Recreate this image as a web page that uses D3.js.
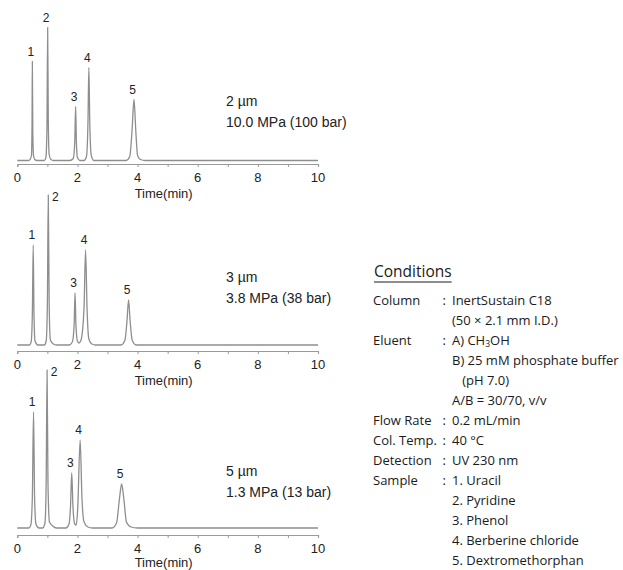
<!DOCTYPE html>
<html>
<head>
<meta charset="utf-8">
<script src="https://cdn.jsdelivr.net/npm/d3@7"></script>
<style>
  html, body { margin: 0; padding: 0; background: #fff; }
  svg { display: block; }
</style>
</head>
<body>
<svg id="chart" width="623" height="570"></svg>
<script>
// ---------- data ----------
const xTickLabels = [0, 2, 4, 6, 8, 10];
const xMinorTicks = [0, 1, 2, 3, 4, 5, 6, 7, 8, 9, 10];
const axisTitle = "Time(min)";

const particleSizes = ["2 µm", "3 µm", "5 µm"];
const pressures = ["10.0 MPa (100 bar)", "3.8 MPa (38 bar)", "1.3 MPa (13 bar)"];

const peakIds = ["1", "2", "3", "4", "5"];
const peakTimes2um = [0.50, 1.01, 1.94, 2.38, 3.88];
const peakHeights2um = [99, 133, 54, 93, 61];
const peakTimes3um = [0.53, 1.03, 1.92, 2.27, 3.70];
const peakHeights3um = [100, 150, 52, 95, 45];
const peakTimes5um = [0.54, 0.99, 1.81, 2.09, 3.47];
const peakHeights5um = [116, 158, 55, 88, 44];

// chromatogram traces: [time (min), signal]
const trace2um = [[0,0],[0.38,0],[0.44,2],[0.47,5],[0.49,35],[0.50,99],[0.515,30],[0.54,5],[0.58,1],[0.65,0],
  [0.90,0],[0.95,3],[0.985,30],[1.01,133],[1.03,40],[1.06,6],[1.12,1],[1.2,0],
  [1.75,0],[1.86,2],[1.91,18],[1.94,54],[1.965,18],[2.0,3],[2.08,0],
  [2.22,0],[2.30,4],[2.35,38],[2.38,93],[2.41,38],[2.46,5],[2.55,0],
  [3.62,0],[3.74,4],[3.82,32],[3.88,61],[3.94,30],[4.0,5],[4.1,1],[4.25,0],[10,0]];
const trace3um = [[0,0],[0.40,0],[0.46,3],[0.50,30],[0.53,100],[0.555,30],[0.59,4],[0.68,0],
  [0.90,0],[0.96,4],[1.00,40],[1.03,150],[1.06,40],[1.10,5],[1.2,1],[1.3,0],
  [1.72,0],[1.83,3],[1.89,20],[1.92,52],[1.95,20],[2.0,4],[2.05,2],[2.12,5],[2.22,38],[2.27,95],[2.32,36],[2.38,6],[2.48,1],[2.6,0],
  [3.45,0],[3.58,5],[3.65,25],[3.70,45],[3.75,25],[3.82,5],[3.95,0],[10,0]];
const trace5um = [[0,0],[0.38,0],[0.45,3],[0.50,30],[0.54,116],[0.575,30],[0.62,4],[0.72,0],
  [0.84,0],[0.92,5],[0.96,45],[0.99,158],[1.02,45],[1.07,6],[1.18,2],[1.3,0],
  [1.62,0],[1.72,4],[1.77,22],[1.81,55],[1.85,22],[1.91,4],[1.96,3],[2.01,20],[2.09,88],[2.15,30],[2.22,6],[2.35,1],[2.5,0],
  [3.15,0],[3.30,5],[3.40,30],[3.47,44],[3.54,30],[3.63,6],[3.78,1],[4.0,0],[10,0]];

const conditionsTitle = "Conditions";
const conditionKeys = ["Column", "", "Eluent", "", "", "", "Flow Rate", "Col. Temp.", "Detection", "Sample", "", "", "", ""];
const conditionValues = ["InertSustain C18", "(50 × 2.1 mm I.D.)", "A) CH|3|OH", "B) 25 mM phosphate buffer",
  "   (pH 7.0)", "A/B = 30/70, v/v", "0.2 mL/min", "40 °C", "UV 230 nm",
  "1. Uracil", "2. Pyridine", "3. Phenol", "4. Berberine chloride", "5. Dextromethorphan"];

// ---------- layout ----------
const panelTraces = [trace2um, trace3um, trace5um];
const panelPeakTimes = [peakTimes2um, peakTimes3um, peakTimes5um];
const panelPeakHeights = [peakHeights2um, peakHeights3um, peakHeights5um];
const panelBaselines = [160.5, 345, 528];
const panelAxisY = [164, 351, 535];
const panelTops = [10, 190, 372];
const panelTextY = [106, 282, 476];

const svg = d3.select("#chart");
const x = d3.scaleLinear().domain([0, 10]).range([17.3, 318]);
const chartFont = "'Liberation Sans', Arial, sans-serif";
const traceColor = "#8e8e8e";

panelTraces.forEach((trace, i) => {
  const g = svg.append("g");
  const y = d3.scaleLinear().domain([0, 160]).range([panelBaselines[i], panelBaselines[i] - 160]);

  // axis
  const axis = d3.axisBottom(x).tickValues(xMinorTicks).tickSize(3).tickFormat("");
  const ag = g.append("g").attr("transform", `translate(0,${panelAxisY[i]})`).call(axis);
  ag.select(".domain").attr("stroke", "#9a9a9a").attr("stroke-width", 1.2);
  ag.selectAll(".tick line").attr("stroke", "#9a9a9a");

  g.selectAll("text.tl").data(xTickLabels).join("text")
    .attr("class", "tl")
    .attr("x", d => x(d))
    .attr("y", panelAxisY[i] + 18)
    .attr("text-anchor", "middle")
    .attr("font-family", chartFont).attr("font-size", 13).attr("fill", "#222")
    .text(d => d);

  g.append("text")
    .attr("x", (x.range()[0] + x.range()[1]) / 2 - 4)
    .attr("y", Math.min(panelAxisY[i] + 34, 567))
    .attr("text-anchor", "middle")
    .attr("font-family", chartFont).attr("font-size", 13).attr("fill", "#222")
    .text(axisTitle);

  // trace
  const line = d3.line().x(d => x(d[0])).y(d => y(d[1])).curve(d3.curveMonotoneX);
  g.append("path").datum(trace)
    .attr("d", line)
    .attr("fill", "none")
    .attr("stroke", traceColor)
    .attr("stroke-width", 1.3)
    .attr("stroke-linejoin", "round");

  // peak labels
  const times = panelPeakTimes[i], heights = panelPeakHeights[i];
  g.selectAll("text.pk").data(peakIds).join("text")
    .attr("class", "pk")
    .each(function(d, k) {
      const px = x(times[k]), py = y(heights[k]);
      const above = py - 14 >= panelTops[i];
      d3.select(this)
        .attr("x", above ? px - 1.5 : px + 7)
        .attr("y", above ? py - 6 : py + 6);
    })
    .attr("text-anchor", "middle")
    .attr("font-family", chartFont).attr("font-size", 12).attr("fill", "#222")
    .text(d => d);

  // panel annotation
  g.append("text").attr("x", 226).attr("y", panelTextY[i])
    .attr("font-family", chartFont).attr("font-size", 14).attr("fill", "#222")
    .text(particleSizes[i]);
  g.append("text").attr("x", 226).attr("y", panelTextY[i] + 21)
    .attr("font-family", chartFont).attr("font-size", 14).attr("fill", "#222")
    .text(pressures[i]);
});

// ---------- conditions ----------
const condFont = "'Open Sans', sans-serif";
const condSize = 13;
const cg = svg.append("g");
const title = cg.append("text").attr("x", 374).attr("y", 276.5)
  .attr("font-family", condFont).attr("font-size", 15.5).attr("fill", "#1a1a1a")
  .text(conditionsTitle);
const tw = title.node().getComputedTextLength();
cg.append("line").attr("x1", 374).attr("x2", 374 + tw).attr("y1", 282).attr("y2", 282)
  .attr("stroke", "#1a1a1a").attr("stroke-width", 1);

conditionValues.forEach((v, k) => {
  const yy = 304.5 + 20 * k;
  if (conditionKeys[k]) {
    cg.append("text").attr("x", 373).attr("y", yy)
      .attr("font-family", condFont).attr("font-size", condSize).attr("fill", "#1a1a1a")
      .text(conditionKeys[k]);
    cg.append("text").attr("x", 442.5).attr("y", yy)
      .attr("font-family", condFont).attr("font-size", condSize).attr("fill", "#1a1a1a")
      .text(":");
  }
  const t = cg.append("text").attr("x", 452).attr("y", yy)
    .attr("font-family", condFont).attr("font-size", condSize).attr("fill", "#1a1a1a")
    .attr("xml:space", "preserve").style("white-space", "pre");
  const parts = v.split("|");
  parts.forEach((p, j) => {
    if (j % 2 === 1) {
      t.append("tspan").attr("font-size", 8.5).attr("dy", 2).text(p);
    } else {
      t.append("tspan").attr("dy", j === 0 ? 0 : -2).text(p);
    }
  });
});
</script>
</body>
</html>
